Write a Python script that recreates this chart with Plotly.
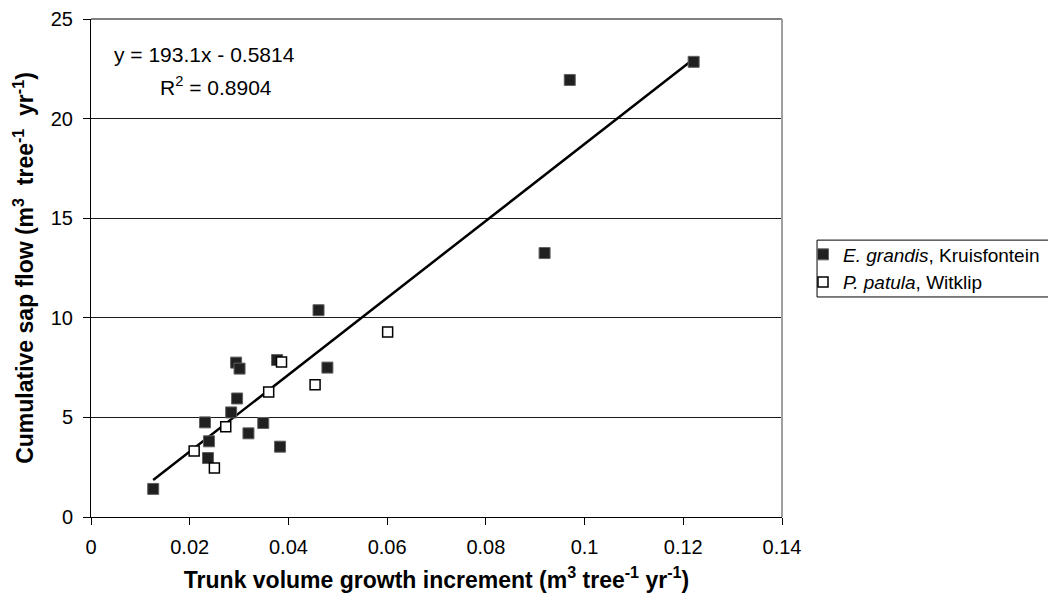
import plotly.graph_objects as go

# E. grandis, Kruisfontein
eg_x = [0.0126, 0.0231, 0.0239, 0.0237, 0.0284, 0.0296, 0.0294, 0.0301, 0.0319,
        0.0349, 0.0377, 0.0383, 0.0461, 0.0479, 0.0919, 0.0970, 0.1221]
eg_y = [1.41, 4.75, 3.80, 2.96, 5.25, 5.95, 7.75, 7.45, 4.20,
        4.72, 7.88, 3.53, 10.38, 7.50, 13.25, 21.94, 22.85]

# P. patula, Witklip
pp_x = [0.0209, 0.0250, 0.0273, 0.0360, 0.0386, 0.0454, 0.0601]
pp_y = [3.31, 2.46, 4.53, 6.28, 7.78, 6.64, 9.29]

# Linear trendline (all points): y = slope * x + intercept
slope = 193.1
intercept = -0.5814
r2 = 0.8904

x_ticks = [0, 0.02, 0.04, 0.06, 0.08, 0.1, 0.12, 0.14]
x_tick_labels = ["0", "0.02", "0.04", "0.06", "0.08", "0.1", "0.12", "0.14"]
y_ticks = [0, 5, 10, 15, 20, 25]

all_x = eg_x + pp_x
fit_x = [min(all_x), max(all_x)]
fit_y = [slope * v + intercept for v in fit_x]

FONT = "Arial, Liberation Sans, sans-serif"

fig = go.Figure()
fig.add_trace(go.Scatter(
    x=fit_x, y=fit_y, mode="lines", line=dict(color="black", width=2.5),
    showlegend=False, hoverinfo="skip"))
fig.add_trace(go.Scatter(
    x=eg_x, y=eg_y, mode="markers", name="<i>E. grandis</i>, Kruisfontein",
    marker=dict(symbol="square", size=11, color="#202020",
                line=dict(color="#606060", width=1))))
fig.add_trace(go.Scatter(
    x=pp_x, y=pp_y, mode="markers", name="<i>P. patula</i>, Witklip",
    marker=dict(symbol="square", size=10, color="white",
                line=dict(color="black", width=1.5))))

fig.update_layout(
    width=1048, height=600,
    margin=dict(l=91, r=266, t=19, b=83, autoexpand=False),
    paper_bgcolor="white", plot_bgcolor="white",
    font=dict(family=FONT, size=20, color="black"),
    legend=dict(x=1.0304, y=0.499, xanchor="left", yanchor="middle",
                bgcolor="rgba(0,0,0,0)", font=dict(size=19, family=FONT),
                itemwidth=30, tracegroupgap=2),
    xaxis=dict(range=[0, 0.14], tickvals=x_ticks, ticktext=x_tick_labels,
               showgrid=False, zeroline=False, showline=True, linecolor="black",
               linewidth=1, ticks="outside", ticklen=7, tickcolor="black",
               tickfont=dict(size=20), ticklabelstandoff=5,
               title=dict(text="<b>Trunk volume growth increment (m<sup>3</sup> tree<sup>-1</sup> yr<sup>-1</sup>)</b>",
                          font=dict(size=23), standoff=14)),
    yaxis=dict(range=[0, 25], tickvals=y_ticks, showgrid=True, gridcolor="#1a1a1a",
               gridwidth=1, zeroline=False, showline=True, linecolor="black",
               linewidth=1, ticks="outside", ticklen=7, tickcolor="black",
               tickfont=dict(size=20), ticklabelstandoff=6,
               title=dict(text="<b>Cumulative sap flow (m<sup>3</sup>  tree<sup>-1</sup>  yr<sup>-1</sup>)</b>",
                          font=dict(size=23), standoff=10)),
    shapes=[
        dict(type="line", xref="paper", yref="paper", x0=0, x1=1, y0=1, y1=1,
             line=dict(color="#808080", width=2)),
        dict(type="line", xref="paper", yref="paper", x0=1, x1=1, y0=0, y1=1,
             line=dict(color="#a0a0a0", width=2)),
        # legend frame
        dict(type="path", xref="paper", yref="paper",
             path="M 1.5,0.556 L 1.0507,0.556 L 1.0507,0.4418 L 1.5,0.4418",
             line=dict(color="black", width=1)),
    ],
    annotations=[
        dict(xref="paper", yref="paper", x=0.0304, y=0.928, xanchor="left", yanchor="middle",
             text=f"y = {slope}x - {abs(intercept)}", showarrow=False,
             font=dict(size=21, family=FONT)),
        dict(xref="paper", yref="paper", x=0.097, y=0.865, xanchor="left", yanchor="middle",
             text=f"R<sup>2</sup> = {r2}", showarrow=False,
             font=dict(size=21, family=FONT)),
    ],
)

fig.write_html("out.html")
